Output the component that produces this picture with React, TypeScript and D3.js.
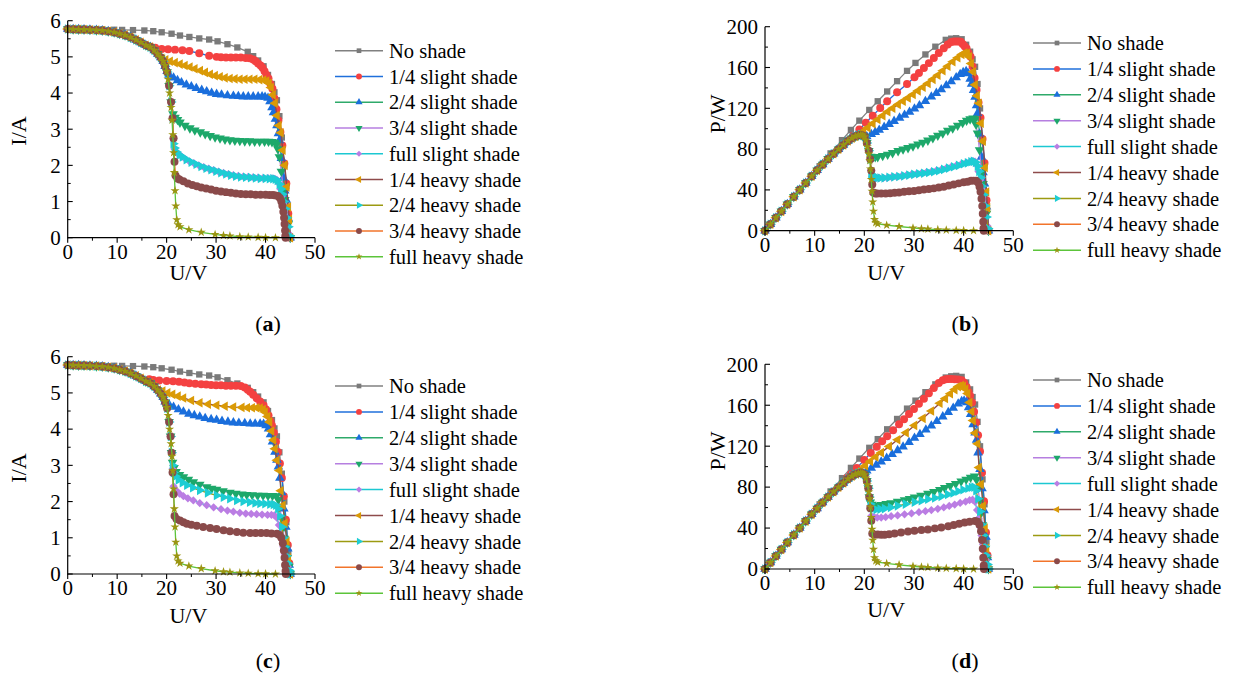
import React from 'react';
import * as d3 from 'd3';

type Pt = [number, number];

const SERIES_NAMES = [
  'No shade', '1/4 slight shade', '2/4 slight shade', '3/4 slight shade', 'full slight shade',
  '1/4 heavy shade', '2/4 heavy shade', '3/4 heavy shade', 'full heavy shade',
];
const LINE_COLORS = ['#808080', '#1F6FDB', '#2EAA6A', '#B67FE0', '#1CC8D2', '#8E4B4B', '#9C9A12', '#F2742B', '#5CC43A'];
const MARK_COLORS = ['#7A7A7A', '#F44141', '#1A6EDC', '#1DA86A', '#BB7DE3', '#DA9A06', '#1DCDD4', '#8A4A4A', '#9A9512'];
const MARK_SHAPES = ['square', 'circle', 'up', 'down', 'diamond', 'left', 'right', 'circle', 'star'];

const U_TICKS = [0, 10, 20, 30, 40, 50];
const I_TICKS = [0, 1, 2, 3, 4, 5, 6];
const P_TICKS = [0, 40, 80, 120, 160, 200];

// common part of every shaded curve, before it splits off
const HEAD_IV: Pt[] = [[0,5.77],[1.1,5.765],[2.2,5.76],[3.3,5.755],[4.5,5.75],[5.8,5.74],[7,5.73],[8.2,5.71],[9.4,5.68],[10.5,5.64],[11.6,5.6],[12.7,5.54],[13.8,5.47],[14.8,5.4],[15.8,5.32],[16.7,5.27],[17.5,5.18],[18.2,5.08],[18.8,4.98],[19.3,4.88]];
const HEAD_P: Pt[] = [[0,0],[1.1,6.3],[2.2,12.7],[3.3,19],[4.5,25.9],[5.8,33.3],[7,40.1],[8.2,46.8],[9.4,53.4],[10.5,59.2],[11.6,65],[12.7,70.4],[13.8,75.5],[14.8,79.9],[15.8,84.1],[16.7,88],[17.5,90.7],[18.2,92.5],[18.8,93.6],[19.3,94.2]];

const NO_SHADE_IV: Pt[] = [[0,5.77],[2.2,5.765],[4.5,5.76],[7,5.755],[9.4,5.75],[11,5.745],[13.2,5.74],[15.5,5.73],[17.3,5.71],[19,5.68],[21,5.64],[22.7,5.59],[24.6,5.55],[26.6,5.51],[28.6,5.48],[30.3,5.43],[32.3,5.35],[34.3,5.26],[36.4,5.14],[37.5,5.02],[38.5,4.9],[39.6,4.74],[40.5,4.5],[41.3,4.25],[41.8,4.02],[42.3,3.8],[42.8,3.36],[43.3,2.77],[43.8,2],[44.2,1.43],[44.6,0.6],[45,0]];
const NO_SHADE_P: Pt[] = [[0,0],[2.2,12.7],[4.5,25.9],[7,40.3],[9.4,54],[11,63.2],[13.2,75.8],[15.5,88.8],[17.3,98.8],[19,107.9],[21,118.4],[22.7,126.9],[24.6,136.5],[26.6,146.6],[28.6,156.7],[30.3,164.5],[32.3,172.8],[34.3,180.4],[36.4,187.1],[37.5,188.3],[38.5,188.7],[39.6,187.7],[40.5,182.3],[41.3,175.5],[41.8,168],[42.3,160.7],[42.8,143.8],[43.3,119.9],[43.8,87.6],[44.2,63.2],[44.6,26.8],[45,0]];

const FULL_HEAVY_IV: Pt[] = [[19.7,4.76],[20,4.6],[20.3,4.38],[20.6,4],[20.9,3.6],[21.1,3.25],[21.25,2.85],[21.4,2.35],[21.55,1.8],[21.7,1.3],[21.85,0.88],[22.05,0.5],[22.3,0.36],[22.7,0.3],[24.5,0.22],[27,0.15],[29.8,0.09],[31.5,0.06],[32.8,0.05],[34.8,0.03],[36.5,0.02],[38.5,0.01],[40,0.005],[42,0]];
const FULL_HEAVY_P: Pt[] = [[19.7,93.8],[20,92],[20.3,88.9],[20.6,82.4],[20.9,75.2],[21.1,68.6],[21.25,60.6],[21.4,50.3],[21.55,38.8],[21.7,28.2],[21.85,19.2],[22.05,11],[22.3,8],[22.7,6.8],[24.5,5.4],[27,4.1],[29.8,2.7],[31.5,1.9],[32.8,1.6],[34.8,1],[36.5,0.7],[38.5,0.4],[40,0.2],[42,0]];

// panel (a)/(b) branches
const A_S14_IV: Pt[] = [[16.8,5.28],[17.7,5.25],[19,5.22],[20.3,5.21],[21.7,5.2],[23.2,5.18],[24.6,5.16],[26.6,5.1],[28.6,5.03],[30.1,5],[31,4.99],[32,4.98],[33,4.98],[34,4.98],[35,4.98],[36,4.97],[36.8,4.96],[37.5,4.93],[38,4.88],[38.5,4.82],[39,4.76],[39.4,4.7],[39.8,4.6],[40.2,4.5],[40.6,4.4],[41,4.25],[41.4,4.12],[41.8,3.85],[42.2,3.55],[42.6,3.24],[43,2.92],[43.4,2.55],[43.8,2.05],[44.2,1.5],[44.6,0.67],[45,0]];
const A_S14_P: Pt[] = [[16.8,88.7],[17.7,92.9],[19,99.2],[20.3,105.8],[21.7,112.8],[23.2,120.2],[24.6,126.9],[26.6,135.7],[28.6,143.9],[30.1,150.5],[31,154.7],[32,159.4],[33,164.3],[34,169.3],[35,174.3],[36,178.9],[36.8,182.5],[37.5,184.9],[38,185.4],[38.5,185.6],[39,185.6],[39.4,185.2],[39.8,183.1],[40.2,180.9],[40.6,178.6],[41,174.3],[41.4,170.6],[41.8,160.9],[42.2,149.8],[42.6,138],[43,125.6],[43.4,110.7],[43.8,89.8],[44.2,66.3],[44.6,29.9],[45,0]];
const A_S24_IV: Pt[] = [[19.7,4.74],[20.1,4.6],[20.5,4.5],[21.4,4.42],[22.2,4.35],[23,4.29],[24,4.23],[25,4.18],[26,4.13],[27.1,4.08],[28.1,4.04],[29.1,4],[30.1,3.97],[31.1,3.95],[32.3,3.93],[33.5,3.92],[34.5,3.91],[35.5,3.9],[36.5,3.9],[37.5,3.9],[38.5,3.9],[39.3,3.9],[39.9,3.89],[40.5,3.86],[40.9,3.77],[41.3,3.6],[41.6,3.46],[42,3.28],[42.3,3.1],[42.6,2.88],[42.8,2.69],[43.2,2.2],[43.6,1.66],[43.9,1.3],[44.2,1.04],[44.6,0.53],[45,0]];
const A_S24_P: Pt[] = [[19.7,93.4],[20.1,92.5],[20.5,92.3],[21.4,94.6],[22.2,96.6],[23,98.7],[24,101.5],[25,104.5],[26,107.4],[27.1,110.6],[28.1,113.5],[29.1,116.4],[30.1,119.5],[31.1,122.8],[32.3,126.9],[33.5,131.3],[34.5,134.9],[35.5,138.5],[36.5,142.4],[37.5,146.3],[38.5,150.2],[39.3,153.3],[39.9,155.2],[40.5,156.3],[40.9,154.2],[41.3,148.7],[41.6,143.9],[42,137.8],[42.3,131.1],[42.6,122.7],[42.8,115.1],[43.2,95],[43.6,72.4],[43.9,57.1],[44.2,46],[44.6,23.6],[45,0]];
const A_S34_IV: Pt[] = [[19.7,4.74],[20.1,4.58],[20.5,4.2],[20.9,3.75],[21.3,3.42],[21.7,3.32],[22.2,3.26],[22.7,3.19],[23.7,3.1],[24.7,3.03],[25.7,2.97],[26.8,2.92],[27.8,2.87],[28.8,2.82],[29.8,2.78],[30.8,2.75],[31.8,2.72],[32.8,2.7],[33.8,2.69],[34.8,2.68],[35.8,2.67],[36.8,2.67],[37.8,2.66],[38.8,2.66],[39.8,2.66],[40.6,2.66],[41.3,2.65],[41.9,2.63],[42.2,2.58],[42.5,2.45],[42.8,2.23],[43.2,1.83],[43.6,1.3],[43.9,1.05],[44.2,0.83],[44.6,0.38],[45,0]];
const A_S34_P: Pt[] = [[19.7,93.4],[20.1,92.1],[20.5,86.1],[20.9,78.4],[21.3,72.8],[21.7,72],[22.2,72.4],[22.7,72.4],[23.7,73.5],[24.7,74.8],[25.7,76.3],[26.8,78.3],[27.8,79.8],[28.8,81.2],[29.8,82.8],[30.8,84.7],[31.8,86.5],[32.8,88.6],[33.8,90.9],[34.8,93.3],[35.8,95.6],[36.8,98.3],[37.8,100.5],[38.8,103.2],[39.8,105.9],[40.6,108],[41.3,109.4],[41.9,110.2],[42.2,108.9],[42.5,104.1],[42.8,95.4],[43.2,79.1],[43.6,56.7],[43.9,46.1],[44.2,36.7],[44.6,16.9],[45,0]];
const A_SFULL_IV: Pt[] = [[19.7,4.74],[20.1,4.58],[20.5,4.2],[20.9,3.75],[21.2,3.3],[21.4,2.75],[21.6,2.45],[22,2.36],[22.5,2.3],[23,2.25],[23.8,2.17],[24.6,2.11],[25.5,2.06],[26.5,2],[27.5,1.95],[28.5,1.91],[29.5,1.87],[30.5,1.83],[31.5,1.79],[32.5,1.76],[33.5,1.73],[34.5,1.71],[35.5,1.69],[36.5,1.68],[37.5,1.67],[38.5,1.66],[39.5,1.65],[40.5,1.65],[41.3,1.64],[41.9,1.63],[42.3,1.6],[42.7,1.5],[43,1.35],[43.3,1.15],[43.6,0.95],[43.9,0.75],[44.2,0.55],[44.5,0.3],[44.8,0.1],[45,0]];
const A_SFULL_P: Pt[] = [[19.7,93.4],[20.1,92.1],[20.5,86.1],[20.9,78.4],[21.2,70],[21.4,58.9],[21.6,52.9],[22,51.9],[22.5,51.8],[23,51.8],[23.8,51.6],[24.6,51.9],[25.5,52.5],[26.5,53],[27.5,53.6],[28.5,54.4],[29.5,55.2],[30.5,55.8],[31.5,56.4],[32.5,57.2],[33.5,58],[34.5,59],[35.5,60],[36.5,61.3],[37.5,62.6],[38.5,63.9],[39.5,65.2],[40.5,66.8],[41.3,67.7],[41.9,68.3],[42.3,67.7],[42.7,64],[43,58],[43.3,49.8],[43.6,41.4],[43.9,32.9],[44.2,24.3],[44.5,13.4],[44.8,4.5],[45,0]];
const A_H14_IV: Pt[] = [[19,4.96],[19.8,4.92],[20.7,4.88],[21.7,4.84],[22.7,4.8],[23.7,4.76],[24.7,4.72],[25.7,4.67],[26.8,4.62],[27.8,4.57],[28.8,4.52],[29.8,4.48],[30.8,4.45],[31.8,4.42],[32.8,4.4],[33.8,4.39],[34.8,4.38],[35.8,4.38],[36.8,4.38],[37.8,4.38],[38.8,4.37],[39.6,4.36],[40.2,4.33],[40.7,4.27],[41.1,4.15],[41.5,3.95],[41.9,3.72],[42.3,3.38],[42.7,3.1],[43.1,2.9],[43.5,2.42],[43.9,2],[44.3,1.4],[44.6,0.85],[44.8,0.5],[45,0]];
const A_H14_P: Pt[] = [[19,94.2],[19.8,97.4],[20.7,101],[21.7,105],[22.7,109],[23.7,112.8],[24.7,116.6],[25.7,120],[26.8,123.8],[27.8,127],[28.8,130.2],[29.8,133.5],[30.8,137.1],[31.8,140.6],[32.8,144.3],[33.8,148.4],[34.8,152.4],[35.8,156.8],[36.8,161.2],[37.8,165.6],[38.8,169.6],[39.6,172.7],[40.2,174.1],[40.7,173.8],[41.1,170.6],[41.5,163.9],[41.9,155.9],[42.3,143],[42.7,132.4],[43.1,125],[43.5,105.3],[43.9,87.8],[44.3,62],[44.6,37.9],[44.8,22.4],[45,0]];
const A_H24_IV: Pt[] = [[19.7,4.74],[20.1,4.58],[20.5,4.2],[20.9,3.75],[21.2,3.3],[21.35,2.6],[21.6,2.48],[22,2.37],[22.6,2.29],[23.2,2.23],[24,2.16],[25,2.09],[26,2.03],[27,1.97],[28,1.92],[29,1.88],[30,1.84],[31,1.8],[32,1.76],[33,1.73],[34,1.7],[35,1.68],[36,1.67],[37,1.66],[38,1.65],[39,1.64],[40,1.64],[40.8,1.63],[41.5,1.63],[42,1.62],[42.4,1.58],[42.8,1.48],[43.1,1.35],[43.4,1.2],[43.7,1],[44,0.8],[44.3,0.55],[44.6,0.3],[44.9,0.05]];
const A_H24_P: Pt[] = [[19.7,93.4],[20.1,92.1],[20.5,86.1],[20.9,78.4],[21.2,70],[21.35,55.5],[21.6,53.6],[22,52.1],[22.6,51.8],[23.2,51.7],[24,51.8],[25,52.3],[26,52.8],[27,53.2],[28,53.8],[29,54.5],[30,55.2],[31,55.8],[32,56.3],[33,57.1],[34,57.8],[35,58.8],[36,60.1],[37,61.4],[38,62.7],[39,64],[40,65.6],[40.8,66.5],[41.5,67.6],[42,68],[42.4,67],[42.8,63.3],[43.1,58.2],[43.4,52.1],[43.7,43.7],[44,35.2],[44.3,24.4],[44.6,13.4],[44.9,2.2]];
const A_H34_IV: Pt[] = [[19.7,4.74],[20.1,4.58],[20.5,4.2],[20.9,3.75],[21.2,3.3],[21.4,2.75],[21.6,2.1],[21.8,1.72],[22.2,1.64],[22.6,1.61],[23.4,1.56],[24.3,1.5],[25.2,1.46],[26.1,1.42],[27,1.39],[28,1.36],[29,1.33],[30,1.3],[31,1.28],[32,1.26],[33,1.24],[34,1.22],[35,1.21],[36,1.2],[37,1.2],[38,1.19],[39,1.19],[40,1.19],[40.8,1.18],[41.5,1.18],[42,1.17],[42.5,1.15],[42.9,1.1],[43.2,1],[43.4,0.88],[43.6,0.72],[43.75,0.55],[43.85,0.38],[43.95,0.2],[44,0.05],[44.05,0]];
const A_H34_P: Pt[] = [[19.7,93.4],[20.1,92.1],[20.5,86.1],[20.9,78.4],[21.2,70],[21.4,58.9],[21.6,45.4],[21.8,37.5],[22.2,36.4],[22.6,36.4],[23.4,36.5],[24.3,36.5],[25.2,36.8],[26.1,37.1],[27,37.5],[28,38.1],[29,38.6],[30,39],[31,39.7],[32,40.3],[33,40.9],[34,41.5],[35,42.4],[36,43.2],[37,44.4],[38,45.2],[39,46.4],[40,47.6],[40.8,48.1],[41.5,49],[42,49.1],[42.5,48.9],[42.9,47.2],[43.2,43.2],[43.4,38.2],[43.6,31.4],[43.75,24.1],[43.85,16.7],[43.95,8.8],[44,2.2],[44.05,0]];

// panel (c)/(d) branches
const C_S14_IV: Pt[] = [[16.5,5.38],[17.3,5.36],[18.5,5.34],[20,5.33],[21.3,5.32],[22.5,5.31],[23.6,5.29],[24.6,5.27],[25.8,5.25],[27,5.24],[28,5.23],[29,5.22],[30,5.21],[31,5.21],[32,5.2],[33,5.2],[34,5.2],[35,5.19],[35.8,5.15],[36.4,5.09],[36.9,5.03],[37.5,4.95],[38.2,4.85],[38.9,4.76],[39.6,4.66],[40.1,4.54],[40.6,4.38],[41,4.22],[41.3,4.1],[41.7,3.9],[42.1,3.65],[42.5,3.37],[42.9,3.05],[43.3,2.65],[43.7,2.15],[44.1,1.5],[44.5,0.8],[44.8,0.3],[45,0]];
const C_S14_P: Pt[] = [[16.5,88.8],[17.3,92.7],[18.5,98.8],[20,106.6],[21.3,113.3],[22.5,119.5],[23.6,124.8],[24.6,129.6],[25.8,135.5],[27,141.5],[28,146.4],[29,151.4],[30,156.3],[31,161.5],[32,166.4],[33,171.6],[34,176.8],[35,181.7],[35.8,184.4],[36.4,185.3],[36.9,185.6],[37.5,185.6],[38.2,185.3],[38.9,185.2],[39.6,184.5],[40.1,182.1],[40.6,177.8],[41,173],[41.3,169.3],[41.7,162.6],[42.1,153.7],[42.5,143.2],[42.9,130.8],[43.3,114.7],[43.7,94],[44.1,66.2],[44.5,35.6],[44.8,13.4],[45,0]];
const C_S24_IV: Pt[] = [[19.7,4.76],[20.5,4.68],[21.4,4.61],[22.4,4.54],[23.4,4.48],[24.5,4.42],[25.6,4.38],[26.7,4.34],[27.8,4.3],[29,4.27],[30.1,4.25],[31.2,4.22],[32.4,4.2],[33.5,4.18],[34.6,4.17],[35.8,4.16],[36.9,4.15],[37.9,4.15],[38.9,4.15],[39.6,4.14],[40.1,4.1],[40.6,4.01],[41,3.85],[41.4,3.65],[41.9,3.37],[42.3,3.15],[42.6,2.96],[42.9,2.65],[43.3,2.25],[43.7,1.8],[44.1,1.3],[44.5,0.7],[44.8,0.25],[45,0]];
const C_S24_P: Pt[] = [[19.7,93.8],[20.5,95.9],[21.4,98.7],[22.4,101.7],[23.4,104.8],[24.5,108.3],[25.6,112.1],[26.7,115.9],[27.8,119.5],[29,123.8],[30.1,127.9],[31.2,131.7],[32.4,136.1],[33.5,140],[34.6,144.3],[35.8,148.9],[36.9,153.1],[37.9,157.3],[38.9,161.4],[39.6,163.9],[40.1,164.4],[40.6,162.8],[41,157.9],[41.4,151.1],[41.9,141.2],[42.3,133.2],[42.6,126.1],[42.9,113.7],[43.3,97.4],[43.7,78.7],[44.1,57.3],[44.5,31.2],[44.8,11.2],[45,0]];
const C_S34_IV: Pt[] = [[19.7,4.74],[20.1,4.58],[20.5,4.2],[20.8,3.8],[21,3.35],[21.2,3.08],[21.5,2.93],[21.9,2.82],[22.6,2.74],[23.4,2.68],[24.4,2.61],[25.4,2.54],[26.7,2.47],[28.1,2.4],[29.1,2.36],[30.1,2.33],[31.4,2.29],[32.8,2.25],[34,2.22],[35.2,2.2],[36.2,2.19],[37.3,2.18],[38.4,2.17],[39.5,2.17],[40.5,2.16],[41.4,2.16],[42.2,2.15],[42.6,2.05],[42.9,1.85],[43.2,1.55],[43.5,1.25],[43.8,0.98],[44.1,0.7],[44.4,0.45],[44.7,0.2],[45,0]];
const C_S34_P: Pt[] = [[19.7,93.4],[20.1,92.1],[20.5,86.1],[20.8,79],[21,70.4],[21.2,65.3],[21.5,63],[21.9,61.8],[22.6,61.9],[23.4,62.7],[24.4,63.7],[25.4,64.5],[26.7,65.9],[28.1,67.4],[29.1,68.7],[30.1,70.1],[31.4,71.9],[32.8,73.8],[34,75.5],[35.2,77.4],[36.2,79.3],[37.3,81.3],[38.4,83.3],[39.5,85.7],[40.5,87.5],[41.4,89.4],[42.2,90.7],[42.6,87.3],[42.9,79.4],[43.2,67],[43.5,54.4],[43.8,42.9],[44.1,30.9],[44.4,20],[44.7,8.9],[45,0]];
const C_SFULL_IV: Pt[] = [[19.7,4.74],[20.1,4.58],[20.5,4.2],[20.8,3.8],[21,3.35],[21.2,2.9],[21.4,2.42],[22,2.3],[22.6,2.22],[23.4,2.15],[24.3,2.09],[25.4,2.03],[26.7,1.96],[28.1,1.9],[29.5,1.84],[31,1.79],[32.3,1.75],[33.5,1.72],[34.8,1.69],[36,1.67],[37.1,1.66],[38.2,1.65],[39.3,1.64],[40.4,1.63],[41.2,1.63],[41.8,1.62],[42.3,1.55],[42.7,1.35],[43,1.15],[43.3,0.95],[43.6,0.75],[43.9,0.55],[44.2,0.38],[44.5,0.2],[44.8,0.05],[45,0]];
const C_SFULL_P: Pt[] = [[19.7,93.4],[20.1,92.1],[20.5,86.1],[20.8,79],[21,70.4],[21.2,61.5],[21.4,51.8],[22,50.6],[22.6,50.2],[23.4,50.3],[24.3,50.8],[25.4,51.6],[26.7,52.3],[28.1,53.4],[29.5,54.3],[31,55.5],[32.3,56.5],[33.5,57.6],[34.8,58.8],[36,60.1],[37.1,61.6],[38.2,63],[39.3,64.5],[40.4,65.9],[41.2,67.2],[41.8,67.7],[42.3,65.6],[42.7,57.6],[43,49.5],[43.3,41.1],[43.6,32.7],[43.9,24.1],[44.2,16.8],[44.5,8.9],[44.8,2.2],[45,0]];
const C_H14_IV: Pt[] = [[18.3,5.08],[19.2,5.05],[20.2,5],[21.2,4.96],[22.3,4.91],[23.4,4.86],[25,4.79],[26.7,4.73],[28.4,4.69],[30.1,4.66],[31.8,4.63],[33.5,4.61],[35.2,4.6],[36.3,4.59],[37.3,4.59],[38.2,4.59],[38.9,4.58],[39.5,4.54],[39.9,4.47],[40.4,4.35],[40.8,4.2],[41.2,3.95],[41.6,3.7],[41.9,3.46],[42.3,3.14],[42.8,2.86],[43.1,2.3],[43.5,1.9],[43.9,1.4],[44.3,0.9],[44.6,0.45],[45,0]];
const C_H14_P: Pt[] = [[18.3,93],[19.2,97],[20.2,101],[21.2,105.2],[22.3,109.5],[23.4,113.7],[25,119.8],[26.7,126.3],[28.4,133.2],[30.1,140.3],[31.8,147.2],[33.5,154.4],[35.2,161.9],[36.3,166.6],[37.3,171.2],[38.2,175.3],[38.9,178.2],[39.5,179.3],[39.9,178.4],[40.4,175.7],[40.8,171.4],[41.2,162.7],[41.6,153.9],[41.9,145],[42.3,132.8],[42.8,122.4],[43.1,99.1],[43.5,82.7],[43.9,61.5],[44.3,39.9],[44.6,20.1],[45,0]];
const C_H24_IV: Pt[] = [[19.7,4.74],[20.1,4.58],[20.5,4.2],[20.8,3.8],[21,3.35],[21.2,3],[21.4,2.8],[21.8,2.7],[22.4,2.6],[23.2,2.52],[24.1,2.45],[25.3,2.38],[26.7,2.31],[28.3,2.24],[30.1,2.17],[31.5,2.12],[32.8,2.08],[34.2,2.03],[35.5,2],[36.8,1.98],[37.9,1.96],[38.9,1.95],[39.9,1.94],[40.9,1.93],[41.6,1.92],[42.1,1.9],[42.5,1.8],[42.9,1.6],[43.3,1.3],[43.6,1],[43.9,0.75],[44.2,0.5],[44.5,0.3],[44.8,0.1],[45,0]];
const C_H24_P: Pt[] = [[19.7,93.4],[20.1,92.1],[20.5,86.1],[20.8,79],[21,70.4],[21.2,63.6],[21.4,59.9],[21.8,58.9],[22.4,58.2],[23.2,58.5],[24.1,59],[25.3,60.2],[26.7,61.7],[28.3,63.4],[30.1,65.3],[31.5,66.8],[32.8,68.2],[34.2,69.4],[35.5,71],[36.8,72.9],[37.9,74.3],[38.9,75.9],[39.9,77.4],[40.9,78.9],[41.6,79.9],[42.1,80],[42.5,76.5],[42.9,68.6],[43.3,56.3],[43.6,43.6],[43.9,32.9],[44.2,22.1],[44.5,13.4],[44.8,4.5],[45,0]];
const C_H34_IV: Pt[] = [[19.7,4.74],[20.1,4.58],[20.5,4.2],[20.8,3.8],[21,3.35],[21.2,2.8],[21.4,2.2],[21.6,1.6],[22,1.52],[22.7,1.48],[23.4,1.43],[24.1,1.39],[25,1.36],[26.1,1.33],[27.4,1.3],[28.8,1.27],[30.1,1.24],[31.5,1.21],[32.8,1.18],[34.2,1.16],[35.5,1.14],[36.9,1.13],[38,1.13],[39.1,1.13],[40.2,1.13],[41.2,1.12],[42.3,1.11],[42.8,1.08],[43.2,1],[43.5,0.85],[43.7,0.65],[43.85,0.45],[43.95,0.25],[44.05,0.08],[44.1,0]];
const C_H34_P: Pt[] = [[19.7,93.4],[20.1,92.1],[20.5,86.1],[20.8,79],[21,70.4],[21.2,59.4],[21.4,47.1],[21.6,34.6],[22,33.4],[22.7,33.6],[23.4,33.5],[24.1,33.5],[25,34],[26.1,34.7],[27.4,35.6],[28.8,36.6],[30.1,37.3],[31.5,38.1],[32.8,38.7],[34.2,39.7],[35.5,40.5],[36.9,41.7],[38,42.9],[39.1,44.2],[40.2,45.4],[41.2,46.1],[42.3,47],[42.8,46.2],[43.2,43.2],[43.5,37],[43.7,28.4],[43.85,19.7],[43.95,11],[44.05,3.5],[44.1,0]];

// where each series leaves the common head (U value)
const SPLIT_AB = [0, 16, 19.5, 19.5, 19.5, 18.5, 19.5, 19.5, 99];
const SPLIT_CD = [0, 15, 19.5, 19.5, 19.5, 17.6, 19.5, 19.5, 99];

const join = (head: Pt[], before: number, tail: Pt[]): Pt[] =>
  head.filter(d => d[0] < before).concat(tail);

const build = (head: Pt[], split: number[], noShade: Pt[], tails: Pt[][]): Pt[][] =>
  [noShade, ...tails.map((t, i) => join(head, split[i + 1], t))];

const SERIES_A = build(HEAD_IV, SPLIT_AB, NO_SHADE_IV, [A_S14_IV, A_S24_IV, A_S34_IV, A_SFULL_IV, A_H14_IV, A_H24_IV, A_H34_IV, FULL_HEAVY_IV]);
const SERIES_B = build(HEAD_P, SPLIT_AB, NO_SHADE_P, [A_S14_P, A_S24_P, A_S34_P, A_SFULL_P, A_H14_P, A_H24_P, A_H34_P, FULL_HEAVY_P]);
const SERIES_C = build(HEAD_IV, SPLIT_CD, NO_SHADE_IV, [C_S14_IV, C_S24_IV, C_S34_IV, C_SFULL_IV, C_H14_IV, C_H24_IV, C_H34_IV, FULL_HEAVY_IV]);
const SERIES_D = build(HEAD_P, SPLIT_CD, NO_SHADE_P, [C_S14_P, C_S24_P, C_S34_P, C_SFULL_P, C_H14_P, C_H24_P, C_H34_P, FULL_HEAVY_P]);

const FONT = "'Liberation Serif', 'Times New Roman', serif";

const SYM_SIZE: Record<string, number> = { square: 40, circle: 50, up: 40, down: 40, left: 40, right: 40, diamond: 34, star: 26 };

function symbolOf(shape: string, scale = 1) {
  const size = SYM_SIZE[shape] * scale;
  let type: d3.SymbolType = d3.symbolCircle;
  let rot = 0;
  if (shape === 'square') type = d3.symbolSquare;
  if (shape === 'diamond') { type = d3.symbolSquare; rot = 45; }
  if (shape === 'star') type = d3.symbolStar;
  if (shape === 'up') type = d3.symbolTriangle;
  if (shape === 'down') { type = d3.symbolTriangle; rot = 180; }
  if (shape === 'left') { type = d3.symbolTriangle; rot = -90; }
  if (shape === 'right') { type = d3.symbolTriangle; rot = 90; }
  return { d: d3.symbol().type(type).size(size)() as string, rot };
}

interface PanelCfg {
  series: Pt[][];
  yMax: number;
  yTicks: number[];
  yMinor: number;
  x0: number; x1: number; y0: number; y1: number;
  yTitle: string; yTitleX: number; yTitleY: number;
  xTitleY: number;
  legX: number; legY: number; legStep: number;
  cap: string; capX: number; capY: number;
}

function Panel({ c }: { c: PanelCfg }) {
  const x = d3.scaleLinear().domain([0, 50]).range([c.x0, c.x1]);
  const y = d3.scaleLinear().domain([0, c.yMax]).range([c.y0, c.y1]);
  const line = d3.line<Pt>().x(d => x(d[0])).y(d => y(d[1]));
  const xMinor = d3.range(5, 50, 10);
  const yMinor = d3.range(c.yMinor, c.yMax, c.yMinor * 2);

  return (
    <g fontFamily={FONT}>
      {c.series.map((s, i) => {
        const sym = symbolOf(MARK_SHAPES[i]);
        return (
          <g key={i}>
            <path d={line(s) as string} fill="none" stroke={LINE_COLORS[i]} strokeWidth={1.3} />
            {s.map((p, j) => (
              <path key={j} d={sym.d} fill={MARK_COLORS[i]}
                transform={`translate(${x(p[0])},${y(p[1])}) rotate(${sym.rot})`} />
            ))}
          </g>
        );
      })}

      {/* axes */}
      <line x1={c.x0} x2={c.x0} y1={c.y1} y2={c.y0 + 0.5} stroke="#000" strokeWidth={1.2} />
      <line x1={c.x0} x2={c.x1} y1={c.y0} y2={c.y0} stroke="#000" strokeWidth={1.2} />
      {U_TICKS.map(t => (
        <g key={'xt' + t}>
          <line x1={x(t)} x2={x(t)} y1={c.y0} y2={c.y0 + 5} stroke="#000" strokeWidth={1.1} />
          <text x={x(t)} y={c.y0 + 14} dy="0.35em" textAnchor="middle" fontSize={21}>{t}</text>
        </g>
      ))}
      {xMinor.map(t => (
        <line key={'xm' + t} x1={x(t)} x2={x(t)} y1={c.y0} y2={c.y0 + 3} stroke="#000" strokeWidth={1} />
      ))}
      {c.yTicks.map(t => (
        <g key={'yt' + t}>
          <line x1={c.x0} x2={c.x0 + 5} y1={y(t)} y2={y(t)} stroke="#000" strokeWidth={1.1} />
          <text x={c.x0 - 7} y={y(t)} dy="0.35em" textAnchor="end" fontSize={21}>{t}</text>
        </g>
      ))}
      {yMinor.map(t => (
        <line key={'ym' + t} x1={c.x0} x2={c.x0 + 3} y1={y(t)} y2={y(t)} stroke="#000" strokeWidth={1} />
      ))}

      <text x={(c.x0 + c.x1) / 2 - 3} y={c.xTitleY} dy="0.35em" textAnchor="middle" fontSize={22}>U/V</text>
      <text transform={`translate(${c.yTitleX},${c.yTitleY}) rotate(-90)`} dy="0.35em" textAnchor="middle" fontSize={22}>{c.yTitle}</text>

      {/* legend */}
      {SERIES_NAMES.map((name, i) => {
        const ly = c.legY + i * c.legStep;
        const sym = symbolOf(MARK_SHAPES[i], 0.55);
        return (
          <g key={'lg' + i}>
            <line x1={c.legX} x2={c.legX + 48} y1={ly} y2={ly} stroke={LINE_COLORS[i]} strokeWidth={1.5} />
            <path d={sym.d} fill={MARK_COLORS[i]} transform={`translate(${c.legX + 24},${ly}) rotate(${sym.rot})`} />
            <text x={c.legX + 54} y={ly} dy="0.35em" fontSize={20.5}>{name}</text>
          </g>
        );
      })}

      <text x={c.capX} y={c.capY} dy="0.35em" textAnchor="middle" fontSize={22}>
        (<tspan fontWeight="bold">{c.cap}</tspan>)
      </text>
    </g>
  );
}

const LEFT = { x0: 67.7, x1: 315, legX: 335, capX: 268, yTitleX: 18 };
const RIGHT = { x0: 765, x1: 1013.3, legX: 1033, capX: 965, yTitleX: 717 };

const PANELS: PanelCfg[] = [
  { ...LEFT, series: SERIES_A, yMax: 6, yTicks: I_TICKS, yMinor: 0.5, y0: 237.7, y1: 20.7,
    yTitle: 'I/A', yTitleY: 131, xTitleY: 272, legY: 50.7, legStep: 25.75, cap: 'a', capY: 323 },
  { ...RIGHT, series: SERIES_B, yMax: 200, yTicks: P_TICKS, yMinor: 20, y0: 230.7, y1: 26.7,
    yTitle: 'P/W', yTitleY: 114, xTitleY: 272, legY: 43, legStep: 25.9, cap: 'b', capY: 323 },
  { ...LEFT, series: SERIES_C, yMax: 6, yTicks: I_TICKS, yMinor: 0.5, y0: 574, y1: 356.7,
    yTitle: 'I/A', yTitleY: 468, xTitleY: 615, legY: 386, legStep: 25.9, cap: 'c', capY: 660 },
  { ...RIGHT, series: SERIES_D, yMax: 200, yTicks: P_TICKS, yMinor: 20, y0: 569, y1: 364.3,
    yTitle: 'P/W', yTitleY: 451, xTitleY: 609, legY: 380, legStep: 25.9, cap: 'd', capY: 660 },
];

export default function App() {
  return (
    <svg width={1233} height={675} style={{ position: 'absolute', left: 0, top: 0, background: '#fff' }}>
      <rect width={1233} height={675} fill="#fff" />
      {PANELS.map((p, i) => <Panel key={i} c={p} />)}
    </svg>
  );
}
